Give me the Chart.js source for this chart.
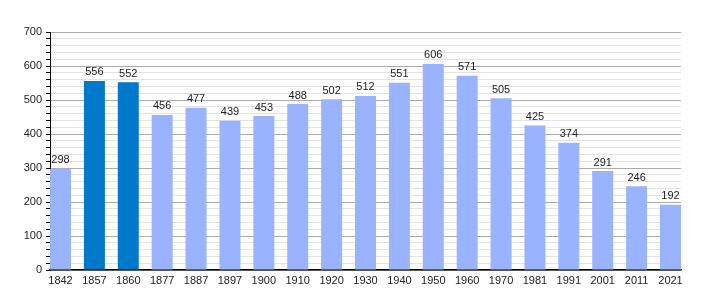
<!DOCTYPE html>
<html>
<head>
<meta charset="utf-8">
<script src="https://cdn.jsdelivr.net/npm/chart.js@4"></script>
<style>
  html, body { margin: 0; padding: 0; background: #fff; }
  #wrap { width: 710px; height: 300px; }
</style>
</head>
<body>
<div id="wrap"><canvas id="myChart"></canvas></div>
<script>
// years of census and population
const years = ['1842', '1857', '1860', '1877', '1887', '1897', '1900', '1910', '1920', '1930',
               '1940', '1950', '1960', '1970', '1981', '1991', '2001', '2011', '2021'];
const population = [298, 556, 552, 456, 477, 439, 453, 488, 502, 512,
                    551, 606, 571, 505, 425, 374, 291, 246, 192];
// the two highlighted years
const highlighted = ['1857', '1860'];
const yTicks = [0, 100, 200, 300, 400, 500, 600, 700];

const lightBlue = '#99b3ff';
const darkBlue = '#0079cc';

// labels above every bar
const valueLabels = {
    id: 'valueLabels',
    afterDatasetsDraw(chart) {
        const c = chart.ctx;
        const meta = chart.getDatasetMeta(0);
        c.save();
        c.font = '11px "Liberation Sans", Arial, sans-serif';
        c.fillStyle = '#222';
        c.textAlign = 'center';
        c.textBaseline = 'bottom';
        meta.data.forEach((bar, i) => {
            c.fillText(population[i], bar.x, bar.y - 3);
        });
        c.restore();
    }
};

const ctx = document.getElementById('myChart');

new Chart(ctx, {
    type: 'bar',
    data: {
        datasets: [{
            data: population.map((v, i) => ({ x: i, y: v })),
            backgroundColor: years.map(y => highlighted.includes(y) ? darkBlue : lightBlue),
            barPercentage: 0.62,
            categoryPercentage: 1
        }]
    },
    options: {
        responsive: true,
        maintainAspectRatio: false,
        animation: false,
        layout: { padding: { top: 32, right: 29, left: 0, bottom: 0 } },
        plugins: {
            legend: { display: false },
            tooltip: { enabled: false }
        },
        scales: {
            x: {
                type: 'linear',
                offset: false,
                min: -0.31,
                max: 18.31,
                afterFit: s => { s.height = 30; },
                afterBuildTicks: s => { s.ticks = years.map((y, i) => ({ value: i })); },
                ticks: {
                    color: '#222',
                    font: { family: '"Liberation Sans", Arial, sans-serif', size: 11 },
                    padding: 4,
                    maxRotation: 0,
                    autoSkip: false,
                    callback: v => years[v]
                },
                grid: { display: false, drawTicks: false, offset: false },
                border: { color: '#000', width: 1.5 }
            },
            y: {
                min: 0,
                max: 700,
                afterFit: s => { s.width = 50; },
                ticks: {
                    stepSize: 20,
                    color: '#222',
                    font: { family: '"Liberation Sans", Arial, sans-serif', size: 11 },
                    padding: 4,
                    autoSkip: false,
                    callback: v => yTicks.includes(v) ? v : ''
                },
                grid: {
                    color: c => c.tick.value % 100 === 0 ? '#aaaaaa' : '#e2e2e2',
                    tickColor: '#000',
                    tickLength: 4,
                    drawTicks: true
                },
                border: { color: '#000', width: 1 }
            }
        }
    },
    plugins: [valueLabels]
});
</script>
</body>
</html>
